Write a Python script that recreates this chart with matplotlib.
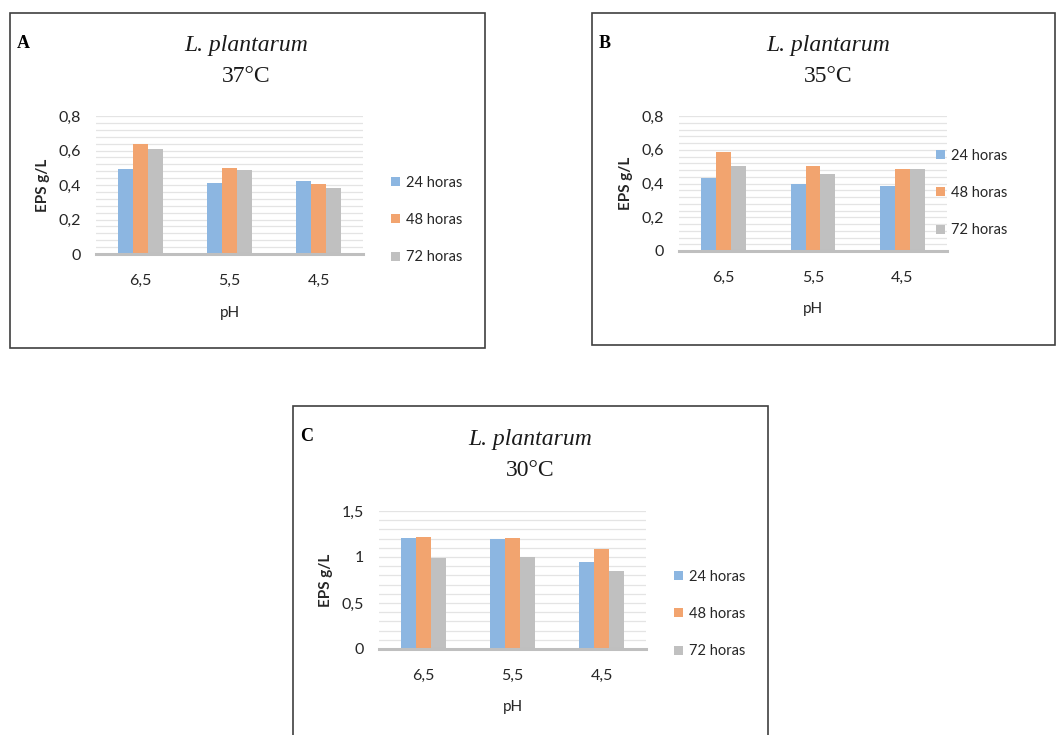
import numpy as np
import matplotlib
matplotlib.use("Agg")
import matplotlib.pyplot as plt
from matplotlib.patches import Rectangle, Patch
from matplotlib.ticker import MultipleLocator, FuncFormatter

W, H = 1056, 735

ph_labels = ["6,5", "5,5", "4,5"]
series_names = ["24 horas", "48 horas", "72 horas"]
colors = ["#8CB6E1", "#F2A46F", "#C0C0C0"]

# EPS g/L, rows = 24h, 48h, 72h ; cols = pH 6.5, 5.5, 4.5
eps_37 = [[0.49, 0.41, 0.425],
          [0.64, 0.50, 0.405],
          [0.61, 0.485, 0.385]]
eps_35 = [[0.43, 0.395, 0.385],
          [0.585, 0.505, 0.485],
          [0.505, 0.455, 0.485]]
eps_30 = [[1.21, 1.195, 0.95],
          [1.22, 1.21, 1.09],
          [0.99, 1.0, 0.845]]

plt.rcParams["font.family"] = ["Lato", "DejaVu Sans"]
fig = plt.figure(figsize=(W / 100, H / 100), dpi=100)


def fx(x):
    return x / W


def fy(y):
    return 1 - y / H


def comma(v, pos):
    return ("%g" % round(v, 2)).replace(".", ",")


def panel(letter, temp, data, box, axbox, ymax, major, minor, legpos, title_xy):
    bx0, by0, bx1, by1 = box
    fig.add_artist(Rectangle((fx(bx0), fy(by1)), fx(bx1 - bx0), (by1 - by0) / H,
                             transform=fig.transFigure, fill=False,
                             edgecolor="#404040", linewidth=1.2))
    x0, y0, x1, y1 = axbox
    ax = fig.add_axes([fx(x0), fy(y1), fx(x1 - x0), (y1 - y0) / H])
    pos = np.arange(len(ph_labels))
    w = 1 / 6
    for i, vals in enumerate(data):
        ax.bar(pos + (i - 1) * w, vals, width=w, color=colors[i], zorder=3)
    ax.set_xlim(-0.5, 2.5)
    ax.set_ylim(0, ymax)
    ax.yaxis.set_major_locator(MultipleLocator(major))
    ax.yaxis.set_minor_locator(MultipleLocator(minor))
    ax.yaxis.set_major_formatter(FuncFormatter(comma))
    ax.grid(axis="y", which="both", color="#E4E4E4", linewidth=0.9, zorder=0)
    for s in ["top", "right", "left"]:
        ax.spines[s].set_visible(False)
    ax.spines["bottom"].set_color("#BFBFBF")
    ax.spines["bottom"].set_linewidth(2.2)
    ax.spines["bottom"].set_zorder(4)
    ax.set_xticks(pos)
    ax.set_xticklabels(ph_labels)
    ax.tick_params(axis="both", which="both", length=0, labelsize=11.5, colors="#262626")
    ax.tick_params(axis="y", pad=11)
    ax.tick_params(axis="x", pad=14)
    ax.set_xlabel("pH", fontsize=11, color="#262626", labelpad=13)
    ax.set_ylabel("EPS g/L", fontsize=11, fontweight="bold", color="#262626", labelpad=6)

    handles = [Patch(facecolor=c) for c in colors]
    ax.legend(handles, series_names, loc="center left", frameon=False,
              bbox_to_anchor=(fx(legpos[0]), fy(legpos[1])),
              bbox_transform=fig.transFigure,
              fontsize=10.5, handlelength=0.6, handleheight=0.6, handletextpad=0.4,
              labelspacing=1.6, labelcolor="#262626")

    tx, ty = title_xy
    fig.text(fx(tx), fy(ty), "L. plantarum", ha="center", va="center",
             fontsize=17, style="italic", family="Liberation Serif", color="#1a1a1a")
    fig.text(fx(tx), fy(ty + 31), temp, ha="center", va="center", fontsize=17,
             family="Liberation Serif", color="#1a1a1a")
    fig.text(fx(bx0 + 7), fy(by0 + 31), letter, ha="left", va="center",
             fontsize=13, fontweight="bold", family="Liberation Serif")
    return ax


panel("A", "37°C", eps_37, (10, 13, 485, 348), (96, 116, 363, 254),
      0.8, 0.2, 0.04, (378, 220), (246, 45))
panel("B", "35°C", eps_35, (592, 13, 1055, 345), (679, 116, 947, 251),
      0.8, 0.2, 0.04, (923, 193), (828, 45))
panel("C", "30°C", eps_30, (293, 406, 768, 745), (379, 511, 646, 649),
      1.5, 0.5, 0.1, (661, 614), (530, 439))

fig.savefig("out.png", dpi=100)
